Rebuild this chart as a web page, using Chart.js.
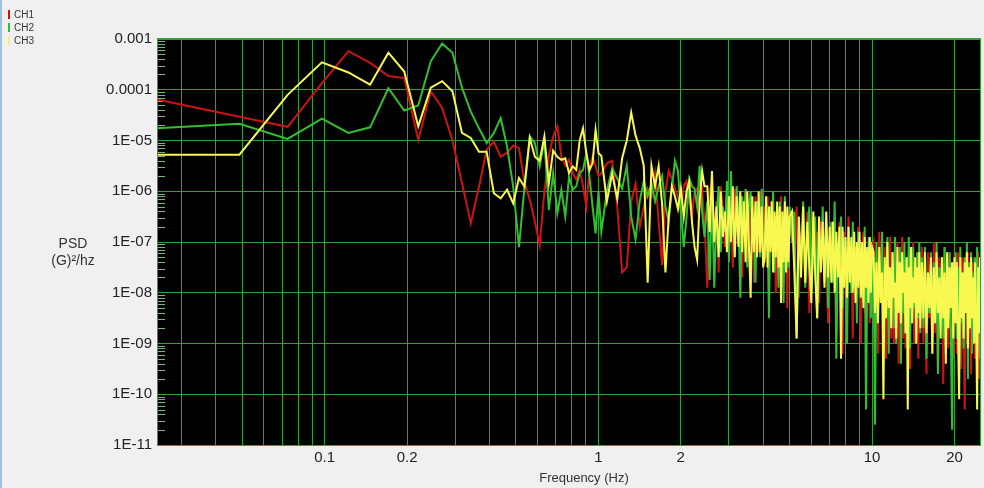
<!DOCTYPE html>
<html>
<head>
<meta charset="utf-8">
<script src="https://cdn.jsdelivr.net/npm/chart.js@4.4.1/dist/chart.umd.min.js"></script>
<style>
  html, body { margin: 0; padding: 0; background: #f0f0f0; }
  #wrap { position: relative; width: 984px; height: 488px; border-left: 2px solid #9cc3e6; box-sizing: border-box; }
  #psdChart { position: absolute; left: -2px; top: 0; }
  .legend { position: absolute; left: 6px; top: 8px; font: 10px "Liberation Sans", Arial, sans-serif; color: #333; }
  .legend div { height: 13px; line-height: 13px; }
  .legend span { display: inline-block; width: 2px; height: 9px; margin-right: 4px; vertical-align: -1px; }
  .ytitle { position: absolute; left: 38px; top: 235px; width: 66px; text-align: center; font: 14px/17px "Liberation Sans", Arial, sans-serif; color: #333; }
  .xtitle { position: absolute; left: 500px; top: 470px; width: 164px; text-align: center; font: 13px/16px "Liberation Sans", Arial, sans-serif; color: #333; }
</style>
</head>
<body>
<div id="wrap">
  <canvas id="psdChart" width="984" height="488"></canvas>
  <div class="legend">
    <div><span style="background:#d01010"></span>CH1</div>
    <div><span style="background:#2ec02e"></span>CH2</div>
    <div><span style="background:#f4f070"></span>CH3</div>
  </div>
  <div class="ytitle">PSD<br>(G)²/hz</div>
  <div class="xtitle">Frequency (Hz)</div>
</div>
<script>
// Frequency bins (Hz): every bin below 1 Hz, every other bin to 2.44 Hz, then a finer grid to 25 Hz
const freqHz = [
    0.0244, 0.0488, 0.0732, 0.0977, 0.1221, 0.1465, 0.1709, 0.1953, 0.2197, 0.2441,
    0.2686, 0.2930, 0.3174, 0.3418, 0.3662, 0.3906, 0.4150, 0.4395, 0.4639, 0.4883,
    0.5127, 0.5371, 0.5615, 0.5859, 0.6104, 0.6348, 0.6592, 0.6836, 0.7080, 0.7324,
    0.7568, 0.7813, 0.8057, 0.8301, 0.8545, 0.8789, 0.9033, 0.9277, 0.9521, 0.9766, 1.0010,
    1.025, 1.074, 1.123, 1.172, 1.221, 1.270, 1.318, 1.367, 1.416, 1.465,
    1.514, 1.563, 1.611, 1.660, 1.709, 1.758, 1.807, 1.855, 1.904, 1.953,
    2.002, 2.051, 2.100, 2.148, 2.197, 2.246, 2.295, 2.344, 2.393, 2.441,
    2.5, 2.55, 2.6, 2.65, 2.7, 2.75, 2.8, 2.85, 2.9, 2.95, 3.0,
    3.05, 3.1, 3.15, 3.2, 3.25, 3.3, 3.35, 3.4, 3.45, 3.5, 3.55, 3.6, 3.65, 3.7, 3.75, 3.8, 3.85, 3.9, 3.95, 4.0,
    4.05, 4.1, 4.15, 4.2, 4.25, 4.3, 4.35, 4.4, 4.45, 4.5, 4.55, 4.6, 4.65, 4.7, 4.75, 4.8, 4.85, 4.9, 4.95, 5.0,
    5.1, 5.2, 5.3, 5.4, 5.5, 5.6, 5.7, 5.8, 5.9, 6.0, 6.1, 6.2, 6.3, 6.4, 6.5, 6.6, 6.7, 6.8, 6.9, 7.0,
    7.1, 7.2, 7.3, 7.4, 7.5, 7.6, 7.7, 7.8, 7.9, 8.0, 8.1, 8.2, 8.3, 8.4, 8.5, 8.6, 8.7, 8.8, 8.9, 9.0,
    9.1, 9.2, 9.3, 9.4, 9.5, 9.6, 9.7, 9.8, 9.9, 10.0,
    10.125, 10.25, 10.375, 10.5, 10.625, 10.75, 10.875, 11.0, 11.125, 11.25, 11.375, 11.5, 11.625, 11.75, 11.875, 12.0, 12.125, 12.25, 12.375, 12.5,
    12.625, 12.75, 12.875, 13.0, 13.125, 13.25, 13.375, 13.5, 13.625, 13.75, 13.875, 14.0, 14.125, 14.25, 14.375, 14.5, 14.625, 14.75, 14.875, 15.0,
    15.2, 15.4, 15.6, 15.8, 16.0, 16.2, 16.4, 16.6, 16.8, 17.0, 17.2, 17.4, 17.6, 17.8, 18.0, 18.2, 18.4, 18.6, 18.8, 19.0, 19.2, 19.4, 19.6, 19.8, 20.0,
    20.2, 20.4, 20.6, 20.8, 21.0, 21.2, 21.4, 21.6, 21.8, 22.0, 22.2, 22.4, 22.6, 22.8, 23.0, 23.2, 23.4, 23.6, 23.8, 24.0, 24.2, 24.4, 24.6, 24.8, 25.0
];

// PSD per channel as log10 of (G)²/hz, one value per frequency above
const ch1Psd = [
    -4.19, -4.53, -4.73, -3.87, -3.24, -3.47, -3.73, -3.77, -4.99, -4.03,
    -4.36, -5.0, -5.84, -6.63, -5.91, -5.18, -5.02, -5.32, -5.24, -5.1,
    -5.15, -5.84, -6.17, -6.6, -7.06, -6.0, -5.3, -4.92, -4.72, -5.32,
    -5.5, -5.38, -5.64, -5.77, -5.58, -5.9, -6.3, -5.58, -5.32, -5.51, -5.7,
    -5.65, -5.45, -5.4, -6.3, -7.6, -7.5, -6.2, -5.85, -6.7, -6.3,
    -5.95, -6.1, -5.65, -6.6, -7.45, -6.0, -5.6, -5.75, -5.95, -6.1,
    -6.4, -5.9, -5.8, -6.2, -6.5, -6.0, -5.95, -6.3, -6.0, -6.6,
    -7.9, -6.0, -5.85, -6.9, -6.2, -7.6, -5.9, -6.4, -7.1, -6.0, -6.6,
    -6.3, -7.5, -5.95, -6.6, -7.0, -6.1, -7.7, -6.4, -6.0, -6.9, -7.3, -6.2, -6.5, -7.8, -6.1, -6.7, -7.2, -6.0, -6.8, -7.4,
    -6.3, -7.1, -6.1, -7.6, -6.5, -6.2, -7.3, -6.8, -8.0, -6.3, -6.6, -7.2, -6.1, -7.9, -6.7, -6.4, -7.0, -8.3, -6.4, -6.9,
    -6.5, -7.4, -6.3, -8.1, -6.9, -6.6, -7.6, -6.4, -8.4, -7.0, -6.5, -7.3, -6.8, -8.2, -6.6, -7.1, -7.7, -6.5, -8.6, -7.0,
    -6.9, -7.6, -6.5, -8.8, -7.2, -6.6, -7.9, -9.2, -6.8, -7.4, -8.3, -6.5, -7.7, -7.0, -8.9, -6.9, -7.5, -8.1, -6.7, -7.8,
    -9.0, -7.1, -6.8, -8.4, -7.3, -7.9, -6.9, -8.6, -7.4, -7.1,
    -7.0, -8.9, -7.3, -9.2, -6.8, -8.0, -7.6, -8.7, -7.1, -9.3, -7.4, -8.4, -6.9, -8.9, -7.7, -9.0, -7.2, -8.3, -7.0, -9.4,
    -7.5, -8.6, -6.9, -8.9, -7.3, -9.1, -7.8, -8.5, -7.1, -9.5, -7.4, -8.2, -7.0, -9.0, -7.6, -8.7, -7.2, -9.3, -7.5, -8.4,
    -7.1, -9.0, -7.5, -9.6, -7.2, -8.5, -7.8, -9.2, -7.0, -8.8, -7.4, -9.5, -7.3, -8.6, -7.7, -9.8, -7.1, -8.9, -7.5, -9.1, -7.2, -8.4, -7.6, -9.3, -7.3,
    -7.4, -9.2, -7.2, -8.8, -7.6, -9.5, -7.3, -8.7, -10.3, -7.5, -9.0, -7.2, -8.6, -7.7, -9.6, -7.4, -8.9, -7.3, -9.3, -7.6, -8.5, -7.2, -9.7, -7.5, -9.4
];

const ch2Psd = [
    -4.76, -4.67, -4.97, -4.57, -4.85, -4.74, -3.97, -4.41, -4.31, -3.44,
    -3.09, -3.27, -3.96, -4.43, -4.76, -5.05, -4.85, -4.56, -5.12, -5.91,
    -7.1, -5.91, -4.92, -5.05, -5.51, -4.99, -6.37, -5.64, -6.43, -5.97,
    -6.5, -5.71, -5.97, -5.9, -5.64, -5.58, -5.25, -5.71, -6.3, -6.83, -6.0,
    -6.8, -6.0, -5.55, -5.75, -5.95, -5.5, -6.5, -6.95, -6.2, -5.8,
    -6.1, -5.85, -6.2, -5.9, -5.7, -6.3, -6.6, -5.95, -5.4, -5.6,
    -6.4, -7.1, -6.5, -5.75, -5.9, -5.95, -6.3, -5.5, -6.4, -6.9,
    -6.2, -7.75, -6.0, -7.9, -6.5, -5.9, -7.2, -6.3, -6.8, -5.8, -7.4,
    -5.6, -6.7, -7.2, -5.9, -6.4, -8.1, -6.1, -6.8, -5.95, -7.5, -6.3, -6.0, -7.0, -6.6, -7.8, -6.2, -6.5, -7.3, -5.95, -6.9,
    -7.4, -6.2, -6.8, -8.5, -6.3, -7.1, -6.0, -7.6, -6.5, -6.9, -7.9, -6.2, -7.3, -6.7, -8.2, -6.1, -7.0, -6.6, -7.5, -6.3,
    -7.0, -6.4, -8.9, -6.7, -7.5, -6.2, -7.9, -6.8, -6.3, -8.0, -7.2, -6.5, -8.5, -6.9, -7.4, -6.3, -7.8, -6.6, -8.3, -7.1,
    -6.6, -7.8, -6.2, -9.3, -7.0, -7.5, -6.5, -8.3, -6.9, -7.6, -9.0, -6.7, -7.3, -8.0, -6.6, -7.9, -7.1, -8.6, -6.8, -7.6,
    -7.4, -7.0, -8.2, -6.7, -10.3, -7.7, -7.2, -6.9, -8.5, -7.5,
    -7.3, -10.6, -7.0, -8.5, -7.4, -8.1, -6.8, -8.9, -7.5, -8.3, -6.9, -9.2, -7.6, -8.0, -7.2, -8.7, -6.9, -9.0, -7.4, -8.2,
    -7.1, -9.4, -7.7, -8.4, -7.0, -8.8, -7.3, -8.1, -6.9, -9.1, -7.5, -8.6, -7.1, -8.3, -7.8, -9.0, -7.2, -8.5, -7.0, -8.8,
    -7.3, -8.7, -7.1, -9.3, -7.6, -8.4, -7.2, -9.0, -7.4, -8.6, -7.0, -9.6, -7.5, -8.3, -7.3, -8.9, -7.1, -9.2, -7.6, -8.5, -7.2, -8.8, -10.7, -7.4, -8.6,
    -7.2, -8.9, -7.5, -9.4, -7.1, -8.6, -7.6, -9.1, -7.3, -8.4, -7.0, -9.7, -7.4, -8.7, -7.2, -9.2, -7.6, -8.5, -7.3, -9.0, -7.1, -8.8, -7.5, -9.3, -7.2
];

const ch3Psd = [
    -5.28, -5.28, -4.10, -3.46, -3.66, -3.90, -3.27, -3.64, -4.72, -3.96,
    -3.83, -4.03, -4.85, -4.95, -5.22, -5.22, -6.04, -6.14, -5.97, -6.24,
    -5.74, -5.91, -4.95, -5.32, -5.4, -4.92, -5.84, -5.2, -5.32, -5.38,
    -5.35, -5.64, -5.51, -5.58, -5.0, -4.76, -5.25, -5.58, -5.45, -4.79, -5.25,
    -5.3, -6.2, -5.65, -6.15, -5.35, -5.0, -4.45, -4.9, -5.15, -5.5,
    -7.8, -5.5, -5.9, -5.5, -6.25, -7.6, -6.5, -5.9, -6.1, -6.35,
    -5.95, -6.5, -6.0, -5.8, -6.6, -7.1, -7.35, -6.2, -5.6, -5.9,
    -5.9, -6.8, -5.6, -7.0, -6.3, -7.3, -6.0, -6.9, -6.4, -7.2, -6.1,
    -7.0, -5.9, -7.3, -6.1, -7.1, -6.0, -7.2, -6.2, -7.4, -6.0, -7.1, -8.1, -6.1, -7.2, -6.2, -7.3, -6.0, -7.2, -6.3, -7.5,
    -7.3, -6.1, -7.5, -6.3, -7.2, -6.2, -7.6, -6.4, -7.3, -6.2, -7.5, -6.3, -8.2, -6.4, -7.4, -6.2, -7.6, -6.3, -7.4, -6.5,
    -6.4, -7.6, -8.9, -6.5, -7.7, -6.3, -7.8, -6.6, -7.5, -8.2, -6.4, -7.7, -8.5, -6.5, -7.6, -6.6, -7.9, -6.4, -7.7, -6.7,
    -7.8, -6.6, -8.0, -6.8, -7.7, -6.7, -9.3, -6.7, -7.9, -6.9, -8.1, -6.7, -7.8, -6.9, -8.0, -6.8, -8.2, -7.0, -7.9, -6.8,
    -8.1, -7.0, -8.3, -6.9, -7.9, -7.1, -8.2, -6.9, -8.0, -7.1,
    -7.2, -8.4, -7.4, -8.6, -7.1, -8.2, -7.6, -10.1, -7.3, -8.5, -7.0, -8.3, -7.5, -8.7, -7.2, -8.1, -7.8, -8.9, -7.1, -8.4,
    -7.4, -8.6, -7.2, -8.0, -7.6, -8.8, -7.3, -10.3, -7.5, -8.3, -7.1, -8.6, -7.7, -8.2, -7.3, -9.0, -7.5, -8.4, -7.2, -8.7,
    -7.4, -8.5, -7.2, -8.8, -7.6, -8.3, -7.3, -9.2, -7.5, -8.6, -7.2, -8.4, -7.7, -8.9, -7.3, -8.5, -7.6, -9.4, -7.2, -8.7, -7.5, -8.3, -7.4, -8.9, -7.3,
    -8.6, -7.4, -8.8, -10.1, -7.3, -8.5, -7.6, -8.9, -7.4, -8.4, -7.2, -9.1, -7.5, -8.7, -7.3, -8.5, -7.7, -9.0, -7.4, -8.6, -10.3, -7.5, -8.8, -7.3, -8.6
];

// Axis grid and labels
const xGridHz = [0.03, 0.04, 0.05, 0.06, 0.07, 0.08, 0.09,
    0.1, 0.2, 0.3, 0.4, 0.5, 0.6, 0.7, 0.8, 0.9,
    1, 2, 3, 4, 5, 6, 7, 8, 9, 10, 20];
const xLabelHz = [0.1, 0.2, 1, 2, 10, 20];
const yDecades = [1e-11, 1e-10, 1e-9, 1e-8, 1e-7, 1e-6, 1e-5, 1e-4, 1e-3];
const yTickLabels = ['1E-11', '1E-10', '1E-09', '1E-08', '1E-07', '1E-06', '1E-05', '0.0001', '0.001'];

const gridGreen = '#33a033';
const axisFont = { family: '"Liberation Sans", Arial, sans-serif', size: 15 };

function toPoints(psd) {
    return freqHz.map((f, i) => ({ x: f, y: Math.pow(10, psd[i]) }));
}

// Black plot background, green frame and short minor ticks on the left edge
const plotFrame = {
    id: 'plotFrame',
    beforeDraw(chart) {
        const { ctx, chartArea: a } = chart;
        ctx.save();
        ctx.fillStyle = '#000';
        ctx.fillRect(a.left, a.top - 1, a.width, a.height + 2);
        ctx.restore();
    },
    beforeDatasetsDraw(chart) {
        const { ctx, chartArea: a, scales: { y } } = chart;
        ctx.save();
        ctx.strokeStyle = '#79b879';
        ctx.lineWidth = 1;
        ctx.beginPath();
        for (let d = 0; d < yDecades.length - 1; d++) {
            for (let m = 2; m <= 9; m++) {
                const py = Math.round(y.getPixelForValue(yDecades[d] * m)) + 0.5;
                ctx.moveTo(a.left, py);
                ctx.lineTo(a.left + 8, py);
            }
        }
        ctx.stroke();
        ctx.restore();
    },
    afterDatasetsDraw(chart) {
        const { ctx, chartArea: a } = chart;
        ctx.save();
        ctx.strokeStyle = gridGreen;
        ctx.lineWidth = 1;
        ctx.strokeRect(a.left + 0.5, a.top - 0.5, a.width - 1, a.height + 1);
        ctx.restore();
    }
};

const lineStyle = { borderWidth: 2, pointRadius: 0, tension: 0, fill: false };

new Chart(document.getElementById('psdChart'), {
    type: 'line',
    data: {
        datasets: [
            { label: 'CH1', data: toPoints(ch1Psd), borderColor: '#cc1414', order: 3, ...lineStyle },
            { label: 'CH2', data: toPoints(ch2Psd), borderColor: '#30c030', order: 2, ...lineStyle },
            { label: 'CH3', data: toPoints(ch3Psd), borderColor: '#f8f850', order: 1, ...lineStyle }
        ]
    },
    options: {
        responsive: false,
        animation: false,
        layout: { padding: { top: 39, right: 3, left: 0, bottom: 0 } },
        plugins: {
            legend: { display: false },
            tooltip: { enabled: false }
        },
        scales: {
            x: {
                type: 'logarithmic',
                min: 0.0244,
                max: 25,
                afterBuildTicks: scale => { scale.ticks = xGridHz.map(v => ({ value: v })); },
                afterFit: scale => { scale.height = 43; },
                border: { display: false },
                grid: { color: gridGreen, drawTicks: false },
                ticks: {
                    autoSkip: false,
                    maxRotation: 0,
                    padding: 4,
                    color: '#222',
                    font: axisFont,
                    callback: value => {
                        const hit = xLabelHz.find(v => Math.abs(v - value) < 1e-9);
                        return hit === undefined ? '' : String(hit);
                    }
                }
            },
            y: {
                type: 'logarithmic',
                min: 1e-11,
                max: 1e-3,
                afterBuildTicks: scale => { scale.ticks = yDecades.map(v => ({ value: v })); },
                afterFit: scale => { scale.width = 157; },
                border: { display: false },
                grid: { color: gridGreen, drawTicks: false },
                ticks: {
                    padding: 5,
                    color: '#222',
                    font: axisFont,
                    callback: (value, index) => yTickLabels[index]
                }
            }
        }
    },
    plugins: [plotFrame]
});
</script>
</body>
</html>
